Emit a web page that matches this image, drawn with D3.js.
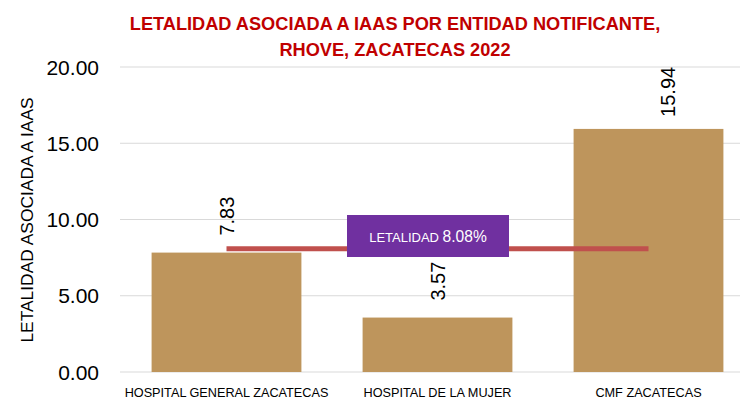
<!DOCTYPE html>
<html>
<head>
<meta charset="utf-8">
<script src="https://cdn.jsdelivr.net/npm/d3@7"></script>
<style>
  body { margin: 0; background: #fff; }
  svg { display: block; font-family: "Liberation Sans", Arial, sans-serif; }
</style>
</head>
<body>
<script>
const entidades = ['HOSPITAL GENERAL ZACATECAS', 'HOSPITAL DE LA MUJER', 'CMF ZACATECAS'];
const letalidad = [7.83, 3.57, 15.94];
const promedio = 8.08;
const yTicks = [0, 5, 10, 15, 20];

const width = 740, height = 400;
const svg = d3.select('body').append('svg').attr('width', width).attr('height', height);

const x = d3.scaleBand().domain(entidades).range([121, 754]).paddingInner(0.29).paddingOuter(0.145);
const y = d3.scaleLinear().domain([0, 20]).range([372, 67]);

// gridlines
svg.append('g')
  .selectAll('line')
  .data(yTicks)
  .enter()
    .append('line')
    .attr('x1', 120).attr('x2', width)
    .attr('y1', d => y(d)).attr('y2', d => y(d))
    .attr('stroke', '#d9d9d9').attr('stroke-width', 1);

// y tick labels
svg.append('g')
  .selectAll('text')
  .data(yTicks)
  .enter()
    .append('text')
    .attr('x', 99)
    .attr('y', d => y(d) + 7.5)
    .attr('text-anchor', 'end')
    .attr('font-size', 21)
    .attr('fill', '#000')
    .text(d => d.toFixed(2));

// bars
svg.append('g')
  .selectAll('rect')
  .data(letalidad)
  .enter()
    .append('rect')
    .attr('x', (d, i) => x(entidades[i]))
    .attr('y', d => y(d))
    .attr('width', x.bandwidth())
    .attr('height', d => y(0) - y(d))
    .attr('fill', '#BE955C');

// value labels (rotated); the last one is nudged like in the original
const nudgeX = [0, 0, 19];
const nudgeY = [0, 0, 5];
svg.append('g')
  .selectAll('text')
  .data(letalidad)
  .enter()
    .append('text')
    .attr('transform', (d, i) => `translate(${x(entidades[i]) + x.bandwidth() / 2 + 7.5 + nudgeX[i]},${y(d) - 17 + nudgeY[i]}) rotate(-90)`)
    .attr('font-size', 20)
    .attr('fill', '#000')
    .text(d => d.toFixed(2));

// average line
const centers = entidades.map(e => x(e) + x.bandwidth() / 2);
svg.append('line')
  .attr('x1', centers[0]).attr('x2', centers[2])
  .attr('y1', y(promedio)).attr('y2', y(promedio))
  .attr('stroke', '#C0504D').attr('stroke-width', 5);

// average label box
const boxCx = 428;
svg.append('rect')
  .attr('x', boxCx - 81).attr('y', 215)
  .attr('width', 162).attr('height', 42)
  .attr('fill', '#7030A0');
const lbl = svg.append('text')
  .attr('x', boxCx).attr('y', 242)
  .attr('text-anchor', 'middle')
  .attr('fill', '#fff');
lbl.append('tspan').attr('font-size', 13).text('LETALIDAD ');
lbl.append('tspan').attr('font-size', 15.6).text(promedio.toFixed(2) + '%');

// x labels
svg.append('g')
  .selectAll('text')
  .data(entidades)
  .enter()
    .append('text')
    .attr('x', d => x(d) + x.bandwidth() / 2)
    .attr('y', 397)
    .attr('text-anchor', 'middle')
    .attr('font-size', 12.7)
    .attr('fill', '#000')
    .text(d => d);

// y title
svg.append('text')
  .attr('transform', 'translate(33,220) rotate(-90)')
  .attr('text-anchor', 'middle')
  .attr('font-size', 17.4)
  .attr('fill', '#000')
  .text('LETALIDAD ASOCIADA A IAAS');

// title
const title = ['LETALIDAD ASOCIADA A IAAS POR ENTIDAD NOTIFICANTE,', 'RHOVE, ZACATECAS 2022'];
svg.append('g')
  .selectAll('text')
  .data(title)
  .enter()
    .append('text')
    .attr('x', 395)
    .attr('y', (d, i) => 30 + i * 26)
    .attr('text-anchor', 'middle')
    .attr('font-size', 18.2)
    .attr('font-weight', 'bold')
    .attr('fill', '#C00000')
    .text(d => d);
</script>
</body>
</html>
